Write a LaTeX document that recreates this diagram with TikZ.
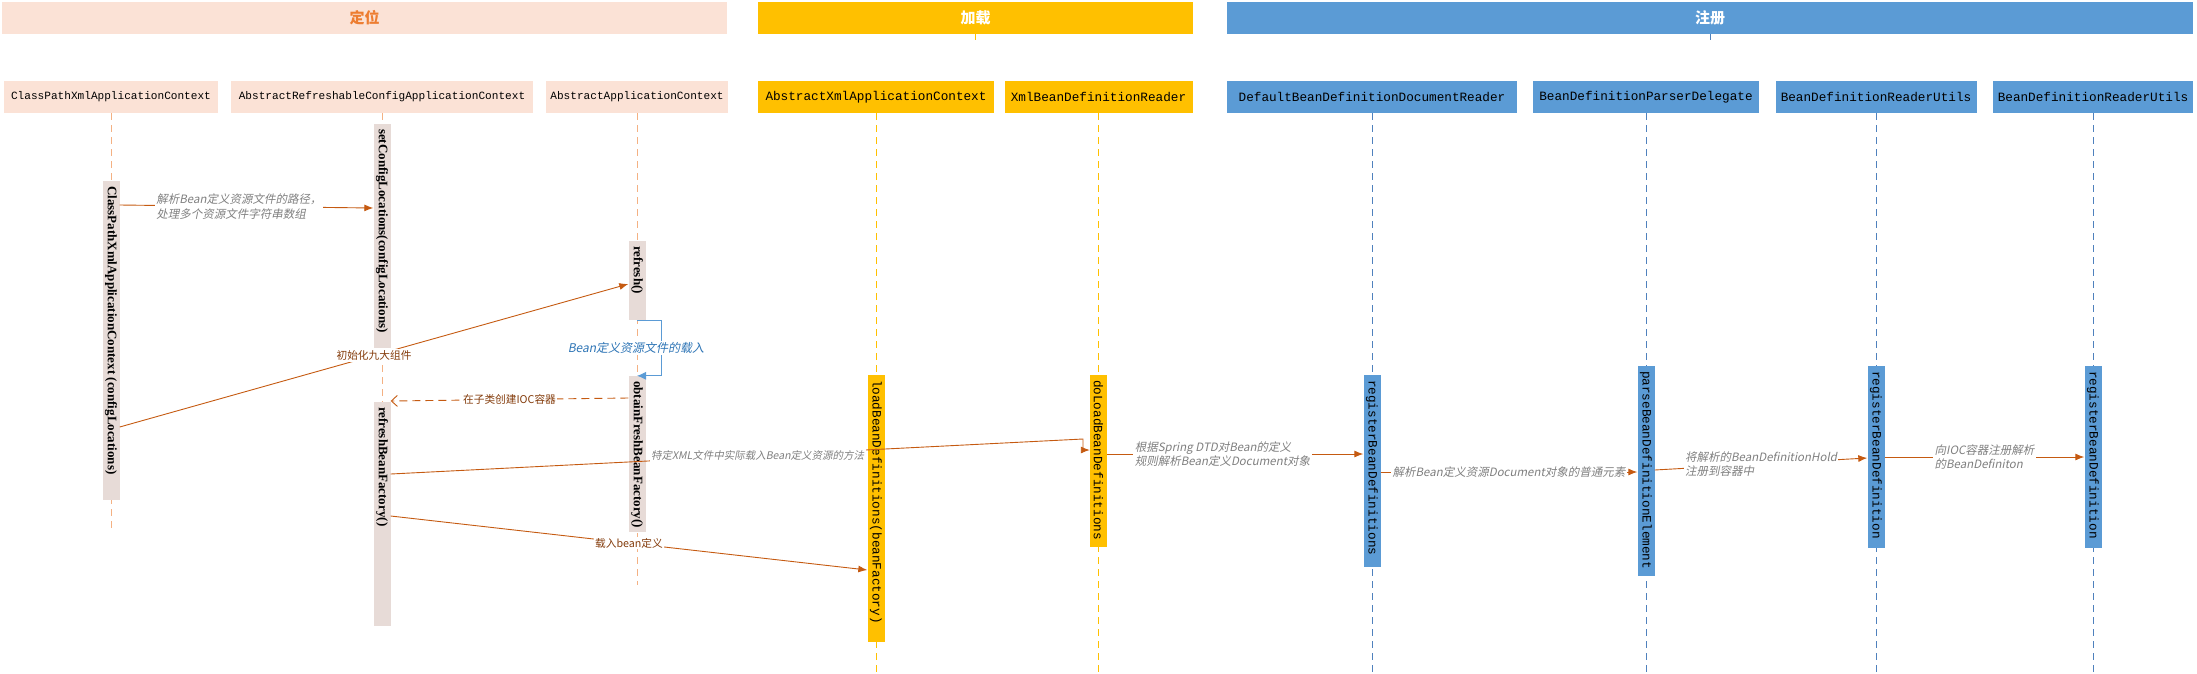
\documentclass[tikz,border=0pt]{standalone}
\usepackage{fontspec}
\setmainfont{Liberation Serif}
\newfontfamily\cjk{Noto Sans CJK SC}
\newfontfamily\cjkit{Noto Sans CJK SC}[FakeSlant=0.2]
\newfontfamily\code{Liberation Mono}
\usetikzlibrary{arrows.meta}

\definecolor{dwfill}{HTML}{FBE2D6}
\definecolor{dworange}{HTML}{ED7D31}
\definecolor{dwbar}{HTML}{E7DBD7}
\definecolor{dwline}{HTML}{F4B183}
\definecolor{jzfill}{HTML}{FFC000}
\definecolor{zcfill}{HTML}{5B9BD5}
\definecolor{zcline}{HTML}{4F81BD}
\definecolor{msgcol}{HTML}{C55A11}
\definecolor{msgtxt}{HTML}{843C0C}
\definecolor{graytxt}{HTML}{808080}
\definecolor{bluetxt}{HTML}{2E75B6}

\begin{document}
\begin{tikzpicture}[x=1pt,y=-1pt,
    band/.style={rectangle,minimum height=32pt,inner sep=0pt,font=\cjk\bfseries\fontsize{15}{18}\selectfont},
    hdr/.style={rectangle,minimum height=32pt,inner sep=0pt},
    life/.style={dash pattern=on 7pt off 5pt,line width=0.8pt},
    actbar/.style={rectangle,minimum width=17pt,inner sep=0pt},
    boldtxt/.style={rotate=-90,anchor=west,inner sep=0pt,font=\bfseries\fontsize{13}{15}\selectfont},
    codetxt/.style={rotate=-90,anchor=west,inner sep=0pt,font=\code\fontsize{12.7}{15}\selectfont},
    msg/.style={draw=msgcol,line width=0.9pt,-{Latex[length=9pt,width=7pt]}},
    ret/.style={draw=msgcol,line width=0.9pt,dash pattern=on 8pt off 5pt,-{Straight Barb[length=6pt,width=11pt]}},
    selfcall/.style={draw=zcfill,line width=0.9pt,-{Latex[length=9pt,width=8pt]}},
    note/.style={fill=white,inner sep=1.5pt,align=left,text=graytxt,font=\cjkit\fontsize{11.5}{14.5}\selectfont},
    call/.style={fill=white,inner sep=1.5pt,text=msgtxt,font=\cjk\fontsize{10.7}{13}\selectfont},
    bluenote/.style={fill=white,inner sep=1.5pt,text=bluetxt,font=\cjkit\fontsize{12}{14}\selectfont}
]
\useasboundingbox (0,0) rectangle (2197,673);

% === Phase bands ===
\node[band,fill=dwfill,text=dworange,minimum width=725pt] (dwband) at (364.7,18) {定位};
\node[band,fill=jzfill,text=white,minimum width=435pt] (jzband) at (975.5,18) {加载};
\node[band,fill=zcfill,text=white,minimum width=966pt] (zcband) at (1710,18) {注册};
\draw[jzfill,line width=0.8pt] (jzband.south) -- ++(0,6);
\draw[zcline,line width=0.8pt] (zcband.south) -- ++(0,6);

% === Class headers ===
\foreach \n/\x/\w/\c/\f/\t in {
    cpxh/111/214/dwfill/11.1/ClassPathXmlApplicationContext,
    arch/382/302/dwfill/11.1/AbstractRefreshableConfigApplicationContext,
    aach/637/182/dwfill/11.1/AbstractApplicationContext,
    axah/876/236/jzfill/12.7/AbstractXmlApplicationContext,
    xbrh/1098.5/188/jzfill/12.7/XmlBeanDefinitionReader,
    dbrh/1372/290/zcfill/12.7/DefaultBeanDefinitionDocumentReader,
    bpdh/1646/226/zcfill/12.7/BeanDefinitionParserDelegate,
    bru1h/1876/201/zcfill/12.7/BeanDefinitionReaderUtils,
    bru2h/2093/200/zcfill/12.7/BeanDefinitionReaderUtils}
    \node[hdr,fill=\c,minimum width=\w pt,font=\code\fontsize{\f}{14}\selectfont] (\n) at (\x,97) {\t};

% === Lifelines ===
\foreach \n/\c/\e in {cpxh/dwline/530, arch/dwline/420, aach/dwline/585,
    axah/jzfill/673, xbrh/jzfill/673, dbrh/zcline/673, bpdh/zcline/673,
    bru1h/zcline/673, bru2h/zcline/673}
    \draw[life,draw=\c] (\n.south) -- (\n.south |- 0,\e);

% === Activation bars ===
\node[actbar,fill=dwbar,minimum height=319pt] (cpx) at (cpxh |- 0,340.5) {};
\node[actbar,fill=dwbar,minimum height=224pt] (setcfg) at (arch |- 0,236) {};
\node[actbar,fill=dwbar,minimum height=224pt] (rbf) at (arch |- 0,514) {};
\node[actbar,fill=dwbar,minimum height=79pt] (refresh) at (aach |- 0,280.5) {};
\node[actbar,fill=dwbar,minimum height=156pt] (obtain) at (aach |- 0,454) {};
\node[actbar,fill=jzfill,minimum height=267pt] (loadbd) at (axah |- 0,508.5) {};
\node[actbar,fill=jzfill,minimum height=172pt] (doload) at (xbrh |- 0,461) {};
\node[actbar,fill=zcfill,minimum height=192pt] (regbds) at (dbrh |- 0,471) {};
\node[actbar,fill=zcfill,minimum height=210pt] (parse) at (bpdh |- 0,471) {};
\node[actbar,fill=zcfill,minimum height=182pt] (reg1) at (bru1h |- 0,457) {};
\node[actbar,fill=zcfill,minimum height=182pt] (reg2) at (bru2h |- 0,457) {};

% method names
\node[boldtxt] at ([yshift=-5pt]cpx.north) {ClassPathXmlApplicationContext (configLocations)};
\node[boldtxt] at ([yshift=-5pt]setcfg.north) {setConfigLocations(configLocations)};
\node[boldtxt] at ([yshift=-5pt]rbf.north) {refreshBeanFactory()};
\node[boldtxt] at ([yshift=-5pt]refresh.north) {refresh()};
\node[boldtxt] at ([yshift=-5pt]obtain.north) {obtainFreshBeanFactory()};
\node[codetxt] at ([yshift=-5pt]loadbd.north) {loadBeanDefinitions(beanFactory)};
\node[codetxt] at ([yshift=-5pt]doload.north) {doLoadBeanDefinitions};
\node[codetxt] at ([yshift=-5pt]regbds.north) {registerBeanDefinitions};
\node[codetxt] at ([yshift=-5pt]parse.north) {parseBeanDefinitionElement};
\node[codetxt] at ([yshift=-5pt]reg1.north) {registerBeanDefinition};
\node[codetxt] at ([yshift=-5pt]reg2.north) {registerBeanDefinition};

% === Messages ===
\draw[msg] (cpx.east |- 0,205) -- node[note,pos=0.47] {解析Bean定义资源文件的路径，\\处理多个资源文件字符串数组} (setcfg.west |- 0,208);
\draw[msg] (cpx.east |- 0,427) -- node[call] {初始化九大组件} (refresh.west |- 0,284);
\draw[selfcall] (refresh.south) -- ++(24,0) |- node[bluenote,pos=0.25,xshift=-25pt] {Bean定义资源文件的载入} (obtain.north);
\draw[ret] (obtain.west |- 0,398) -- node[call] {在子类创建IOC容器} (rbf.east |- 0,401);
\draw[msg] (rbf.east |- 0,474) -- node[note,pos=0.53,font=\cjkit\fontsize{10.5}{13}\selectfont] {特定XML文件中实际载入Bean定义资源的方法} (1083,439) |- (doload.west |- 0,450);
\draw[msg] (rbf.east |- 0,516) -- node[call] {载入bean定义} (loadbd.west |- 0,570);
\draw[msg] (doload.east |- 0,454) -- node[note,pos=0.45] {根据Spring DTD对Bean的定义\\规则解析Bean定义Document对象} (regbds.west |- 0,454);
\draw[msg] (regbds.east |- 0,472) -- node[note] {解析Bean定义资源Document对象的普通元素} (parse.west |- 0,472);
\draw[msg] (parse.east |- 0,470) -- node[note] {将解析的BeanDefinitionHold\\注册到容器中} (reg1.west |- 0,458);
\draw[msg] (reg1.east |- 0,457) -- node[note] {向IOC容器注册解析\\的BeanDefiniton} (reg2.west |- 0,457);

\end{tikzpicture}
\end{document}
